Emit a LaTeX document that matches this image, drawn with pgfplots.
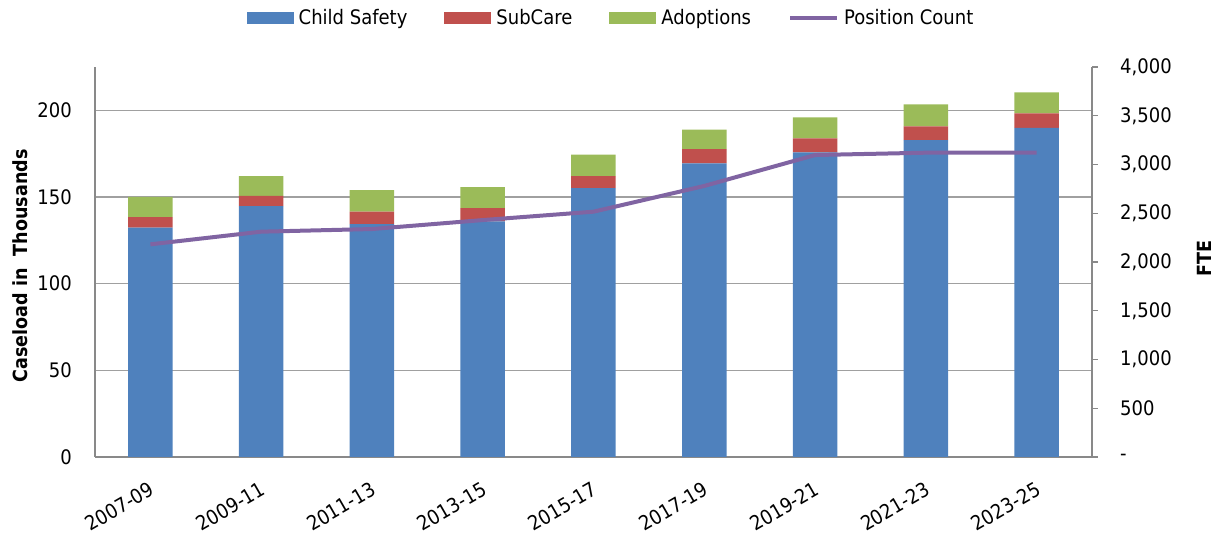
\documentclass[border=0pt]{standalone}
\usepackage{fontspec}
\setmainfont{DejaVu Sans}[FakeStretch=0.9]
\usepackage{pgfplots}
\usepackage{pgfplotstable}
\pgfplotsset{compat=1.18}
\definecolor{cs}{HTML}{4F81BD}
\definecolor{sc}{HTML}{C0504D}
\definecolor{ad}{HTML}{9BBB59}
\definecolor{pc}{HTML}{8064A2}
\definecolor{axgray}{HTML}{898989}
\definecolor{gridgray}{HTML}{A0A0A0}
\newcommand{\tf}{\fontsize{20bp}{24bp}\selectfont}
\newcommand{\lf}{\fontsize{19.5bp}{23bp}\selectfont\bfseries}
\pgfplotsset{
  swatch/.style={legend image code/.code={\fill[##1,draw=none] (0bp,-6bp) rectangle (47bp,6bp);}},
  lineswatch/.style={legend image code/.code={\draw[##1] (0bp,0bp) -- (47bp,0bp);}},
}
\pgfplotstableread{
x cs sc ad pc
0 132.3 6.1 11.6 2181
1 144.8 5.9 11.4 2311
2 134.4 7.1 12.5 2338
3 136.0 7.6 12.1 2430
4 155.1 7.0 12.3 2516
5 169.4 8.2 11.3 2780
6 175.7 8.1 12.2 3097
7 182.8 8.0 12.7 3121
8 189.9 8.4 12.1 3121
}\data
\begin{document}
\begin{tikzpicture}
\useasboundingbox (0,0) rectangle (1216bp,541bp);
\begin{axis}[
  at={(95bp,84bp)}, anchor=south west,
  scale only axis, width=997bp, height=390bp,
  xmin=-0.5, xmax=8.5, ymin=0, ymax=225,
  ybar stacked, bar width=44.5bp,
  axis x line*=bottom, axis y line*=left,
  axis line style={axgray, line width=1.2bp},
  xtick={0,...,8},
  xticklabels={2007-09,2009-11,2011-13,2013-15,2015-17,2017-19,2019-21,2021-23,2023-25},
  xtick style={draw=none}, ytick style={draw=none},
  ytick={0,50,100,150,200},
  yticklabels={0,50,100,150,200},
  ymajorgrids, grid style={gridgray, line width=1.2bp},
  tick label style={font=\tf},
  yticklabel style={inner sep=0pt, xshift=-23bp},
  xticklabel style={xshift=-2bp, yshift=-24bp, rotate=30, anchor=north east, inner sep=0pt},
  ylabel={Caseload in\ \ Thousands},
  ylabel style={font=\lf, at={(axis description cs:-0.075,0.49)}, anchor=center},
  legend style={at={(0.5176,1.126)}, anchor=center, draw=none, fill=none,
    legend columns=4, font=\tf,
    /tikz/every odd column/.append style={column sep=3bp},
    /tikz/every even column/.append style={column sep=35bp},
    nodes={inner sep=2bp}},
  legend cell align=left,
]
\addplot[fill=cs, draw=none, swatch] table[x=x,y=cs]{\data};
\addlegendentry{Child Safety}
\addplot[fill=sc, draw=none, swatch] table[x=x,y=sc]{\data};
\addlegendentry{SubCare}
\addplot[fill=ad, draw=none, swatch] table[x=x,y=ad]{\data};
\addlegendentry{Adoptions}
\addlegendimage{pc, line width=4bp, lineswatch}
\addlegendentry{Position Count}
\end{axis}
\begin{axis}[
  at={(95bp,84bp)}, anchor=south west,
  scale only axis, width=997bp, height=390bp,
  xmin=-0.5, xmax=8.5, ymin=0, ymax=4000,
  axis x line=none, axis y line*=right,
  axis line style={axgray, line width=1.2bp},
  ytick={0,500,...,4000},
  yticklabels={-,500,{1,000},{1,500},{2,000},{2,500},{3,000},{3,500},{4,000}},
  tick align=outside, major tick length=6bp,
  ytick style={axgray, line width=1.2bp},
  yticklabel style={font=\tf, inner sep=0pt, xshift=22bp},
  ylabel={FTE},
  ylabel style={font=\lf, at={(axis description cs:1.113,0.508)}, anchor=center},
]
\addplot[pc, line width=4bp, line join=round, no markers] table[x=x,y=pc]{\data};
\end{axis}
\end{tikzpicture}
\end{document}
